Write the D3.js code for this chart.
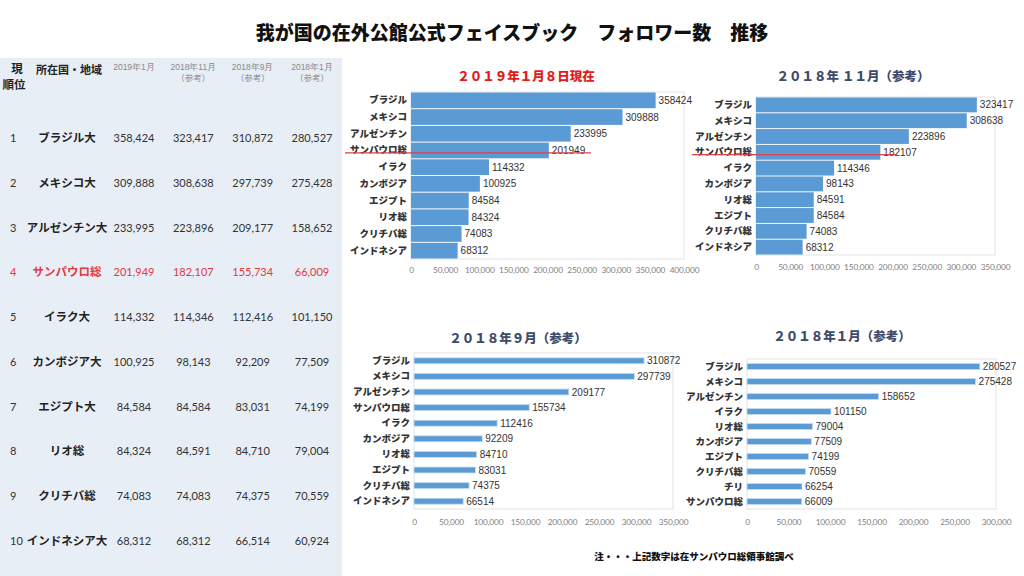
<!DOCTYPE html>
<html><head><meta charset="utf-8">
<script src="https://cdn.jsdelivr.net/npm/d3@7"></script>
<style>
html,body{margin:0;padding:0;background:#fff;}
svg{display:block;}
</style></head>
<body>
<svg id="chart" width="1024" height="576"></svg>
<script>
// ---------- DATA ----------
const mainTitle = "我が国の在外公館公式フェイスブック　フォロワー数　推移";
const note = "注・・・上記数字は在サンパウロ総領事館調べ";

const tableHeaders = ["2019年1月", "2018年11月", "2018年9月", "2018年1月"];
const tableRanks = [1,2,3,4,5,6,7,8,9,10];
const tableNames = ["ブラジル大","メキシコ大","アルゼンチン大","サンパウロ総","イラク大","カンボジア大","エジプト大","リオ総","クリチバ総","インドネシア大"];
const colJan2019 = [358424,309888,233995,201949,114332,100925,84584,84324,74083,68312];
const colNov2018 = [323417,308638,223896,182107,114346,98143,84584,84591,74083,68312];
const colSep2018 = [310872,297739,209177,155734,112416,92209,83031,84710,74375,66514];
const colJan2018 = [280527,275428,158652,66009,101150,77509,74199,79004,70559,60924];
const highlightRow = "サンパウロ総";

const c1Title = "２０１９年１月８日現在";
const c1Cats = ["ブラジル","メキシコ","アルゼンチン","サンパウロ総","イラク","カンボジア","エジプト","リオ総","クリチバ総","インドネシア"];
const c1Vals = [358424,309888,233995,201949,114332,100925,84584,84324,74083,68312];
const c1Ticks = [0,50000,100000,150000,200000,250000,300000,350000,400000];

const c2Title = "２０１８年 １１月（参考）";
const c2Cats = ["ブラジル","メキシコ","アルゼンチン","サンパウロ総","イラク","カンボジア","リオ総","エジプト","クリチバ総","インドネシア"];
const c2Vals = [323417,308638,223896,182107,114346,98143,84591,84584,74083,68312];
const c2Ticks = [0,50000,100000,150000,200000,250000,300000,350000];

const c3Title = "２０１８年９月（参考）";
const c3Cats = ["ブラジル","メキシコ","アルゼンチン","サンパウロ総","イラク","カンボジア","リオ総","エジプト","クリチバ総","インドネシア"];
const c3Vals = [310872,297739,209177,155734,112416,92209,84710,83031,74375,66514];
const c3Ticks = [0,50000,100000,150000,200000,250000,300000,350000];

const c4Title = "２０１８年１月（参考）";
const c4Cats = ["ブラジル","メキシコ","アルゼンチン","イラク","リオ総","カンボジア","エジプト","クリチバ総","チリ","サンパウロ総"];
const c4Vals = [280527,275428,158652,101150,79004,77509,74199,70559,66254,66009];
const c4Ticks = [0,50000,100000,150000,200000,250000,300000];

// ---------- DRAW ----------
const svg = d3.select("#chart");
const JP = "'Noto Sans CJK JP', 'Noto Sans', sans-serif";
const NUM = "Lato, 'Open Sans', 'Liberation Sans', sans-serif";

svg.append("text").attr("x", 512).attr("y", 40).attr("text-anchor","middle")
  .attr("font-family", JP).attr("font-weight", 900).attr("font-size", 19)
  .attr("fill", "#111").text(mainTitle);

// Table panel
const tbl = svg.append("g");
tbl.append("rect").attr("x",0).attr("y",58).attr("width",342).attr("height",518).attr("fill","#e8eef6");
tbl.append("text").attr("x",17).attr("y",73).attr("text-anchor","middle")
  .attr("font-family",JP).attr("font-weight",700).attr("font-size",11.5).attr("fill","#222").text("現");
tbl.append("text").attr("x",14).attr("y",89).attr("text-anchor","middle")
  .attr("font-family",JP).attr("font-weight",700).attr("font-size",11.5).attr("fill","#222").text("順位");
tbl.append("text").attr("x",69).attr("y",74).attr("text-anchor","middle")
  .attr("font-family",JP).attr("font-weight",700).attr("font-size",11).attr("fill","#222").text("所在国・地域");

const colX = d3.scalePoint().domain(tableHeaders).range([134, 312]);
tableHeaders.forEach((h, i) => {
  tbl.append("text").attr("x", colX(h)).attr("y", 70).attr("text-anchor","middle")
    .attr("font-family", "'Liberation Sans', Arial, sans-serif").attr("font-size", 8.5).attr("fill","#8a8a8a").text(h);
  if (i > 0) tbl.append("text").attr("x", colX(h)).attr("y", 81).attr("text-anchor","middle")
    .attr("font-family", JP).attr("font-size", 8.5).attr("fill","#8a8a8a").text("（参考）");
});

const rowY = d3.scalePoint().domain(tableNames).range([138, 541]);
const cols = [colJan2019, colNov2018, colSep2018, colJan2018];
const fmt = d3.format(",");
tableNames.forEach((n, i) => {
  const y = rowY(n) + 4;
  const red = n === highlightRow;
  const c = red ? "#e0393e" : "#222";
  tbl.append("text").attr("x", 10).attr("y", y).attr("font-family", NUM).attr("font-size", 11)
    .attr("fill", red ? "#e0393e" : "#333").text(tableRanks[i]);
  tbl.append("text").attr("x", 67).attr("y", y).attr("text-anchor","middle")
    .attr("font-family", JP).attr("font-weight", 700).attr("font-size", 11.5).attr("fill", c).text(n);
  cols.forEach((col, j) => {
    tbl.append("text").attr("x", colX(tableHeaders[j])).attr("y", y).attr("text-anchor","middle")
      .attr("font-family", NUM).attr("font-size", 11).attr("fill", red ? "#e0393e" : "#333")
      .text(fmt(col[i]));
  });
});

function drawChart(cfg) {
  const g = svg.append("g");
  const x = d3.scaleLinear().domain([0, cfg.ticks[cfg.ticks.length-1]]).range([cfg.x0, cfg.x1]);
  const y = d3.scaleBand().domain(cfg.cats).range([cfg.y0, cfg.y1]).paddingInner(cfg.pad).paddingOuter(cfg.pad/2);
  g.append("rect").attr("x", cfg.x0).attr("y", cfg.y0).attr("width", cfg.x1-cfg.x0).attr("height", cfg.y1-cfg.y0)
    .attr("fill","none").attr("stroke","#e3e3e3").attr("stroke-width",1);
  g.append("text").attr("x", cfg.tx).attr("y", cfg.ty).attr("text-anchor","middle")
    .attr("font-family", JP).attr("font-weight", 900).attr("font-size", 12.5)
    .attr("fill", cfg.titleColor).text(cfg.title);
  g.selectAll("rect.bar").data(cfg.vals).join("rect").attr("class","bar")
    .attr("x", x(0)).attr("y", (d,i) => y(cfg.cats[i]))
    .attr("width", d => x(d) - x(0)).attr("height", y.bandwidth())
    .attr("fill", "#5b9bd5").attr("stroke", cfg.thin ? "#c5dcf0" : "none").attr("stroke-width", cfg.thin ? 0.8 : 0);
  g.selectAll("text.val").data(cfg.vals).join("text").attr("class","val")
    .attr("x", d => x(d) + 3).attr("y", (d,i) => y(cfg.cats[i]) + y.bandwidth()/2 + 3.5)
    .attr("font-family", "'Liberation Sans', Arial, sans-serif").attr("font-size", 10).attr("fill","#333")
    .text(d => d);
  const ax = g.append("g").attr("transform", `translate(0,${cfg.y1})`)
    .call(d3.axisBottom(x).tickValues(cfg.ticks).tickFormat(d3.format(",")).tickSize(0).tickPadding(cfg.tickPad));
  ax.select(".domain").remove();
  ax.selectAll("text").attr("font-family", NUM).attr("font-size", 8.3).attr("letter-spacing", -0.15).attr("fill","#7f7f7f");
  const ay = g.append("g").attr("transform", `translate(${cfg.x0},0)`)
    .call(d3.axisLeft(y).tickSize(0).tickPadding(4));
  ay.select(".domain").remove();
  ay.selectAll("text").attr("font-family", JP).attr("font-weight", 900).attr("font-size", 9.5).attr("fill","#333");
  if (cfg.strike) {
    const ly = y(cfg.strike) + y.bandwidth()*0.65;
    g.append("line").attr("x1", cfg.sx0).attr("x2", cfg.sx1).attr("y1", ly).attr("y2", ly)
      .attr("stroke", "#d9434a").attr("stroke-width", 1.3);
  }
}

drawChart({cats:c1Cats, vals:c1Vals, ticks:c1Ticks, title:c1Title, titleColor:"#e3191c",
  x0:411, x1:684, y0:92, y1:259, pad:0.06, tx:526, ty:81, tickPad:8, strike:"サンパウロ総", sx0:345, sx1:591});
drawChart({cats:c2Cats, vals:c2Vals, ticks:c2Ticks, title:c2Title, titleColor:"#3e4b6a",
  x0:756, x1:995, y0:97, y1:255, pad:0.06, tx:853, ty:81, tickPad:9, strike:"サンパウロ総", sx0:692, sx1:897});
drawChart({cats:c3Cats, vals:c3Vals, ticks:c3Ticks, title:c3Title, titleColor:"#3e4b6a",
  x0:414, x1:673, y0:353, y1:509, pad:0.62, tx:518, ty:343, tickPad:10, thin:true});
drawChart({cats:c4Cats, vals:c4Vals, ticks:c4Ticks, title:c4Title, titleColor:"#3e4b6a",
  x0:747, x1:996, y0:359, y1:509, pad:0.6, tx:842, ty:341, tickPad:10, thin:true});

svg.append("text").attr("x", 694).attr("y", 560).attr("text-anchor","middle")
  .attr("font-family", JP).attr("font-weight", 900).attr("font-size", 9.5).attr("fill","#111").text(note);
</script>
</body></html>
